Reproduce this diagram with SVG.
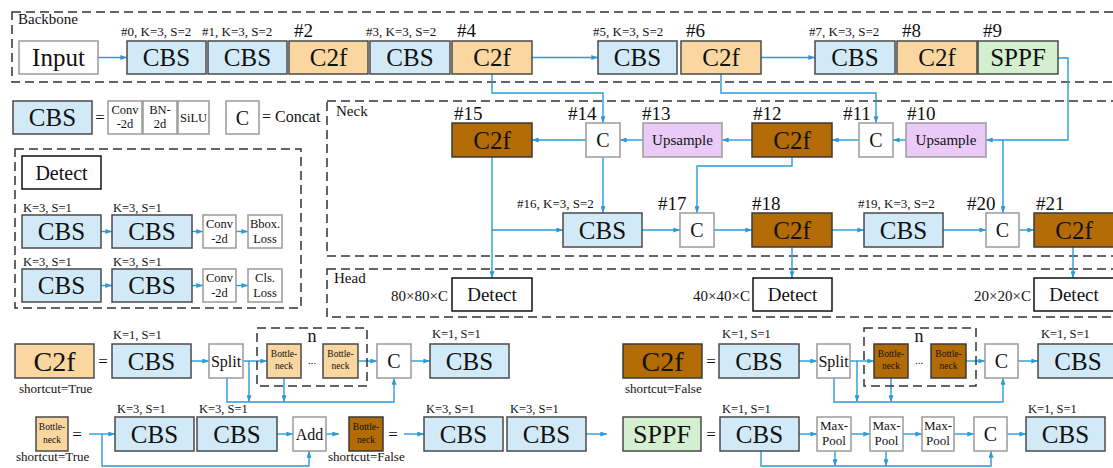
<svg xmlns="http://www.w3.org/2000/svg" width="1113" height="468" viewBox="0 0 1113 468">
<defs>
<marker id="a" viewBox="0 0 8 6" refX="8" refY="3" markerWidth="7" markerHeight="5" markerUnits="userSpaceOnUse" orient="auto"><path d="M0,0 L8,3 L0,6 z" fill="#2A9BD8"/></marker>
<style>
text{font-family:"Liberation Serif","Times New Roman",serif;fill:#111}
.m{text-anchor:middle}
.e{text-anchor:end}
.cbs{fill:#D2EAF7;stroke:#4A4A4A;stroke-width:1.5}
.c2f{fill:#FAD6A0;stroke:#4A4A4A;stroke-width:1.5}
.c2b{fill:#B36B06;stroke:#3A3A3A;stroke-width:1.5}
.sppf{fill:#D4EFD0;stroke:#4A4A4A;stroke-width:1.5}
.up{fill:#EACBF7;stroke:#9A9A9A;stroke-width:1.5}
.wb{fill:#fff;stroke:#9A9A9A;stroke-width:1.5}
.det{fill:#fff;stroke:#111;stroke-width:1.5}
.dash{fill:none;stroke:#333;stroke-width:1.5;stroke-dasharray:9 5}
.ln{fill:none;stroke:#2A9BD8;stroke-width:1.4}
.ar{fill:none;stroke:#2A9BD8;stroke-width:1.4;marker-end:url(#a)}
.b25{font-size:25px}
.b28{font-size:28px}
.h19{font-size:19px}
.k13{font-size:13px}
.k12{font-size:12.5px}
.s15{font-size:15px}
.c20{font-size:20px}
.sm{font-size:12.5px}
.bn{font-size:9.5px}
.mp{font-size:13px}
.eq{font-size:17px}
</style>
</defs>

<g id="regions">
<rect class="dash" x="12" y="12" width="1110" height="70"/>
<text class="s15" x="18" y="24">Backbone</text>
<rect class="dash" x="327" y="101" width="795" height="155"/>
<text class="s15" x="336" y="116">Neck</text>
<rect class="dash" x="327" y="269" width="795" height="48"/>
<text class="s15" x="334" y="283">Head</text>
</g>

<g id="connectors">
<path class="ar" d="M98,57.5 H127"/>
<path class="ar" d="M532,57.5 H598"/>
<path class="ar" d="M761,57.5 H815"/>
<path class="ar" d="M1058,58 H1068 V140 H986"/>
<path class="ar" d="M1003,140 V213"/>
<path class="ar" d="M492,74 V93 H603 V123"/>
<path class="ar" d="M721,74 V93 H876 V123"/>
<path class="ar" d="M906,140 H893"/>
<path class="ar" d="M859,140 H832"/>
<path class="ar" d="M752,140 H722"/>
<path class="ar" d="M643,140 H620"/>
<path class="ar" d="M586,140 H532"/>
<path class="ar" d="M603,157 V213"/>
<path class="ar" d="M492,157 V278"/>
<path class="ar" d="M492,230 H563"/>
<path class="ar" d="M792,157 V166 H697 V213"/>
<path class="ar" d="M642,230 H680"/>
<path class="ar" d="M714,230 H752"/>
<path class="ar" d="M832,230 H864"/>
<path class="ar" d="M943,230 H986"/>
<path class="ar" d="M1019,230 H1034"/>
<path class="ar" d="M792,247 V278"/>
<path class="ar" d="M1073,247 V278"/>
<!-- detect legend -->
<path class="ar" d="M101,231.5 H112"/>
<path class="ar" d="M192,231.5 H203"/>
<path class="ar" d="M236,231.5 H248"/>
<path class="ar" d="M101,285.5 H112"/>
<path class="ar" d="M192,285.5 H203"/>
<path class="ar" d="M236,285.5 H248"/>
<!-- C2f shortcut=True -->
<path class="ar" d="M191,361 H209"/>
<path class="ar" d="M243,361 H267"/>
<path class="ar" d="M358,361 H377"/>
<path class="ar" d="M411,361 H430"/>
<path class="ar" d="M227,378 V402 H394 V378"/>
<path class="ar" d="M249,361 V402"/>
<path class="ar" d="M284,378 V402"/>
<!-- Bottleneck shortcut=True -->
<path class="ar" d="M89,434 H115"/>
<path class="ar" d="M102,434 V466 H309 V451"/>
<path class="ar" d="M277,434 H293"/>
<path class="ar" d="M326,434 H339"/>
<!-- Bottleneck shortcut=False -->
<path class="ar" d="M404,434 H424"/>
<path class="ar" d="M586,434 H607"/>
<!-- C2f shortcut=False -->
<path class="ar" d="M799,361 H817"/>
<path class="ar" d="M850,361 H874"/>
<path class="ar" d="M966,361 H985"/>
<path class="ar" d="M1018,361 H1038"/>
<path class="ar" d="M834,378 V402 H1003 V378"/>
<path class="ar" d="M857,361 V402"/>
<path class="ar" d="M891,378 V402"/>
<!-- SPPF -->
<path class="ar" d="M799,434 H817"/>
<path class="ar" d="M851,434 H870"/>
<path class="ar" d="M903,434 H922"/>
<path class="ar" d="M954,434 H974"/>
<path class="ar" d="M1007,434 H1026"/>
<path class="ar" d="M761,451 V466 H991 V451"/>
<path class="ar" d="M835,451 V466"/>
<path class="ar" d="M886,451 V466"/>
</g>

<!-- Backbone nodes -->
<g id="input"><rect class="wb" x="19" y="41" width="79" height="33"/><text class="m b25" x="58.5" y="66">Input</text></g>
<g id="n0"><text class="k13" x="121" y="36">#0, K=3, S=2</text><rect class="cbs" x="127" y="41" width="79" height="33"/><text class="m b25" x="166.5" y="66">CBS</text></g>
<g id="n1"><text class="k13" x="202" y="36">#1, K=3, S=2</text><rect class="cbs" x="208" y="41" width="79" height="33"/><text class="m b25" x="247.5" y="66">CBS</text></g>
<g id="n2"><text class="h19" x="294" y="37">#2</text><rect class="c2f" x="289" y="41" width="79" height="33"/><text class="m b25" x="328.5" y="66">C2f</text></g>
<g id="n3"><text class="k13" x="366" y="36">#3, K=3, S=2</text><rect class="cbs" x="370" y="41" width="80" height="33"/><text class="m b25" x="410" y="66">CBS</text></g>
<g id="n4"><text class="h19" x="457" y="37">#4</text><rect class="c2f" x="452" y="41" width="80" height="33"/><text class="m b25" x="492" y="66">C2f</text></g>
<g id="n5"><text class="k13" x="593" y="36">#5, K=3, S=2</text><rect class="cbs" x="598" y="41" width="79" height="33"/><text class="m b25" x="637.5" y="66">CBS</text></g>
<g id="n6"><text class="h19" x="686" y="37">#6</text><rect class="c2f" x="681" y="41" width="80" height="33"/><text class="m b25" x="721" y="66">C2f</text></g>
<g id="n7"><text class="k13" x="809" y="36">#7, K=3, S=2</text><rect class="cbs" x="815" y="41" width="80" height="33"/><text class="m b25" x="855" y="66">CBS</text></g>
<g id="n8"><text class="h19" x="902" y="37">#8</text><rect class="c2f" x="897" y="41" width="80" height="33"/><text class="m b25" x="937" y="66">C2f</text></g>
<g id="n9"><text class="h19" x="983" y="37">#9</text><rect class="sppf" x="978" y="41" width="80" height="33"/><text class="m b25" x="1018" y="66">SPPF</text></g>

<!-- Neck nodes -->
<g id="n15"><text class="h19" x="454" y="120">#15</text><rect class="c2b" x="452" y="123" width="80" height="34"/><text class="m b25" x="492" y="148.5">C2f</text></g>
<g id="n14"><text class="h19" x="568" y="120">#14</text><rect class="wb" x="586" y="123" width="34" height="34"/><text class="m c20" x="603" y="147">C</text></g>
<g id="n13"><text class="h19" x="642" y="120">#13</text><rect class="up" x="643" y="123" width="79" height="34"/><text class="m s15" x="682.5" y="145">Upsample</text></g>
<g id="n12"><text class="h19" x="753" y="120">#12</text><rect class="c2b" x="752" y="123" width="80" height="34"/><text class="m b25" x="792" y="148.5">C2f</text></g>
<g id="n11"><text class="h19" x="843" y="120">#11</text><rect class="wb" x="859" y="123" width="34" height="34"/><text class="m c20" x="876" y="147">C</text></g>
<g id="n10"><text class="h19" x="907" y="120">#10</text><rect class="up" x="906" y="123" width="80" height="34"/><text class="m s15" x="946" y="145">Upsample</text></g>
<g id="n16"><text class="k13" x="517" y="208">#16, K=3, S=2</text><rect class="cbs" x="563" y="213" width="79" height="34"/><text class="m b25" x="602.5" y="238.5">CBS</text></g>
<g id="n17"><text class="h19" x="658" y="210">#17</text><rect class="wb" x="680" y="213" width="34" height="34"/><text class="m c20" x="697" y="237">C</text></g>
<g id="n18"><text class="h19" x="752" y="210">#18</text><rect class="c2b" x="752" y="213" width="80" height="34"/><text class="m b25" x="792" y="238.5">C2f</text></g>
<g id="n19"><text class="k13" x="858" y="208">#19, K=3, S=2</text><rect class="cbs" x="864" y="213" width="79" height="34"/><text class="m b25" x="903.5" y="238.5">CBS</text></g>
<g id="n20"><text class="h19" x="967" y="210">#20</text><rect class="wb" x="986" y="213" width="33" height="34"/><text class="m c20" x="1002.5" y="237">C</text></g>
<g id="n21"><text class="h19" x="1036" y="210">#21</text><rect class="c2b" x="1034" y="213" width="80" height="34"/><text class="m b25" x="1074" y="238.5">C2f</text></g>

<!-- Head nodes -->
<g id="d1"><text class="e s15" x="448" y="301">80×80×C</text><rect class="det" x="452" y="278" width="80" height="33"/><text class="m h19" x="492" y="301">Detect</text></g>
<g id="d2"><text class="e s15" x="750" y="301">40×40×C</text><rect class="det" x="753" y="278" width="79" height="33"/><text class="m h19" x="792.5" y="301">Detect</text></g>
<g id="d3"><text class="e s15" x="1031" y="301">20×20×C</text><rect class="det" x="1034" y="278" width="80" height="33"/><text class="m h19" x="1074" y="301">Detect</text></g>

<!-- Legend -->
<g id="legend-cbs">
<rect class="cbs" x="13" y="101" width="79" height="33"/><text class="m b25" x="52.5" y="126">CBS</text>
<text class="m eq" x="100" y="123">=</text>
<rect class="wb" x="108" y="101" width="34" height="33"/><text class="m sm" x="125" y="113.5">Conv</text><text class="m sm" x="125" y="128">-2d</text>
<rect class="wb" x="143" y="101" width="34" height="33"/><text class="m sm" x="160" y="113.5">BN-</text><text class="m sm" x="160" y="128">2d</text>
<rect class="wb" x="178" y="101" width="31" height="33"/><text class="m sm" x="193.5" y="122">SiLU</text>
</g>
<g id="legend-concat">
<rect class="wb" x="226" y="101" width="33" height="33"/><text class="m c20" x="242.5" y="124.5">C</text>
<text style="font-size:16px" x="262" y="122">= Concat</text>
</g>
<g id="legend-detect">
<rect class="dash" x="15" y="149" width="286" height="159"/>
<rect class="det" x="22" y="156" width="79" height="33"/><text class="m c20" x="61.5" y="179.5">Detect</text>
<text class="k12" x="23" y="212">K=3, S=1</text><text class="k12" x="113" y="212">K=3, S=1</text>
<rect class="cbs" x="22" y="215" width="79" height="33"/><text class="m b25" x="61.5" y="240">CBS</text>
<rect class="cbs" x="112" y="215" width="80" height="33"/><text class="m b25" x="152" y="240">CBS</text>
<rect class="wb" x="203" y="215" width="33" height="33"/><text class="m sm" x="219.5" y="228">Conv</text><text class="m sm" x="219.5" y="242.5">-2d</text>
<rect class="wb" x="248" y="215" width="34" height="33"/><text class="m sm" x="265" y="228">Bbox.</text><text class="m sm" x="265" y="242.5">Loss</text>
<text class="k12" x="23" y="266">K=3, S=1</text><text class="k12" x="113" y="266">K=3, S=1</text>
<rect class="cbs" x="22" y="269" width="79" height="33"/><text class="m b25" x="61.5" y="294">CBS</text>
<rect class="cbs" x="112" y="269" width="80" height="33"/><text class="m b25" x="152" y="294">CBS</text>
<rect class="wb" x="203" y="269" width="33" height="33"/><text class="m sm" x="219.5" y="282">Conv</text><text class="m sm" x="219.5" y="296.5">-2d</text>
<rect class="wb" x="248" y="269" width="34" height="33"/><text class="m sm" x="265" y="282">Cls.</text><text class="m sm" x="265" y="296.5">Loss</text>
</g>

<!-- C2f shortcut=True -->
<g id="c2f-true">
<rect class="c2f" x="15" y="344" width="79" height="34"/><text class="m b28" x="54.5" y="370.5">C2f</text>
<text class="k13" x="19" y="393">shortcut=True</text>
<text class="m eq" x="103" y="367">=</text>
<text class="k12" x="113" y="339">K=1, S=1</text>
<rect class="cbs" x="112" y="344" width="79" height="34"/><text class="m b25" x="151.5" y="369.5">CBS</text>
<rect class="wb" x="209" y="344" width="34" height="34"/><text class="m" style="font-size:16px" x="226" y="366.5">Split</text>
<rect class="dash" x="257" y="328" width="110" height="58"/>
<text class="m" style="font-size:18px" x="312" y="342">n</text>
<rect class="c2f" x="267" y="344" width="34" height="34"/><text class="m bn" x="284" y="357">Bottle-</text><text class="m bn" x="284" y="369">neck</text>
<text class="m" style="font-size:11px" x="312" y="364">...</text>
<rect class="c2f" x="323" y="344" width="35" height="34"/><text class="m bn" x="340.5" y="357">Bottle-</text><text class="m bn" x="340.5" y="369">neck</text>
<rect class="wb" x="377" y="344" width="34" height="34"/><text class="m c20" x="394" y="368">C</text>
<text class="k12" x="432" y="338">K=1, S=1</text>
<rect class="cbs" x="430" y="344" width="79" height="34"/><text class="m b25" x="469.5" y="369.5">CBS</text>
</g>

<!-- Bottleneck shortcut=True -->
<g id="bn-true">
<rect class="c2f" x="36" y="417" width="32" height="34"/><text class="m bn" x="52" y="430">Bottle-</text><text class="m bn" x="52" y="443">neck</text>
<text class="k13" x="16" y="461">shortcut=True</text>
<text class="m eq" x="77" y="440">=</text>
<text class="k12" x="117" y="413">K=3, S=1</text><text class="k12" x="199" y="413">K=3, S=1</text>
<rect class="cbs" x="115" y="417" width="79" height="34"/><text class="m b25" x="154.5" y="442.5">CBS</text>
<rect class="cbs" x="197" y="417" width="80" height="34"/><text class="m b25" x="237" y="442.5">CBS</text>
<rect class="wb" x="293" y="417" width="33" height="34"/><text class="m" style="font-size:16px" x="309.5" y="440">Add</text>
</g>

<!-- Bottleneck shortcut=False -->
<g id="bn-false">
<rect class="c2b" x="349" y="417" width="34" height="34"/><text class="m bn" x="366" y="430">Bottle-</text><text class="m bn" x="366" y="443">neck</text>
<text class="k13" x="328" y="461">shortcut=False</text>
<text class="m eq" x="393" y="440">=</text>
<text class="k12" x="426" y="413">K=3, S=1</text><text class="k12" x="510" y="413">K=3, S=1</text>
<rect class="cbs" x="424" y="417" width="79" height="34"/><text class="m b25" x="463.5" y="442.5">CBS</text>
<rect class="cbs" x="507" y="417" width="79" height="34"/><text class="m b25" x="546.5" y="442.5">CBS</text>
</g>

<!-- C2f shortcut=False -->
<g id="c2f-false">
<rect class="c2b" x="623" y="344" width="79" height="34"/><text class="m b28" x="662.5" y="370.5">C2f</text>
<text class="k13" x="625" y="393">shortcut=False</text>
<text class="m eq" x="711" y="367">=</text>
<text class="k12" x="722" y="338">K=1, S=1</text>
<rect class="cbs" x="719" y="344" width="80" height="34"/><text class="m b25" x="759" y="369.5">CBS</text>
<rect class="wb" x="817" y="344" width="33" height="34"/><text class="m" style="font-size:16px" x="833.5" y="366.5">Split</text>
<rect class="dash" x="864" y="328" width="112" height="58"/>
<text class="m" style="font-size:18px" x="919" y="342">n</text>
<rect class="c2b" x="874" y="344" width="34" height="34"/><text class="m bn" x="891" y="357">Bottle-</text><text class="m bn" x="891" y="369">neck</text>
<text class="m" style="font-size:11px" x="919" y="364">...</text>
<rect class="c2b" x="931" y="344" width="35" height="34"/><text class="m bn" x="948.5" y="357">Bottle-</text><text class="m bn" x="948.5" y="369">neck</text>
<rect class="wb" x="985" y="344" width="33" height="34"/><text class="m c20" x="1001.5" y="368">C</text>
<text class="k12" x="1041" y="338">K=1, S=1</text>
<rect class="cbs" x="1038" y="344" width="80" height="34"/><text class="m b25" x="1078" y="369.5">CBS</text>
</g>

<!-- SPPF -->
<g id="sppf">
<rect class="sppf" x="623" y="417" width="78" height="34"/><text class="m" style="font-size:26px" x="662" y="443">SPPF</text>
<text class="m eq" x="711" y="440">=</text>
<text class="k12" x="722" y="413">K=1, S=1</text>
<rect class="cbs" x="720" y="417" width="79" height="34"/><text class="m b25" x="759.5" y="442.5">CBS</text>
<rect class="wb" x="817" y="417" width="34" height="34"/><text class="m mp" x="834" y="429.5">Max-</text><text class="m mp" x="834" y="445">Pool</text>
<rect class="wb" x="870" y="417" width="33" height="34"/><text class="m mp" x="886.5" y="429.5">Max-</text><text class="m mp" x="886.5" y="445">Pool</text>
<rect class="wb" x="922" y="417" width="32" height="34"/><text class="m mp" x="938" y="429.5">Max-</text><text class="m mp" x="938" y="445">Pool</text>
<rect class="wb" x="974" y="417" width="33" height="34"/><text class="m c20" x="990.5" y="441">C</text>
<text class="k12" x="1028" y="413">K=1, S=1</text>
<rect class="cbs" x="1026" y="417" width="79" height="34"/><text class="m b25" x="1065.5" y="442.5">CBS</text>
</g>
</svg>
